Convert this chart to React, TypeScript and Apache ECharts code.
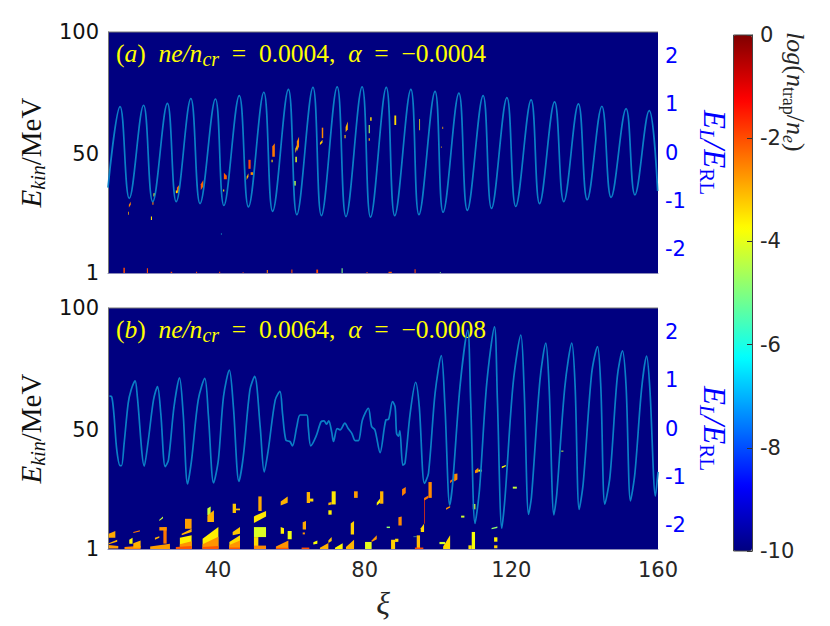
import React, { useEffect, useRef } from "react";
import * as echarts from "echarts";

// field traces: [xi, E_L/E_RL]
const fieldA: number[][] = [
  [10, -0.73], [13.3, 0.95], [15.8, -0.95], [19.7, 0.98], [22.2, -1.02], [26.2, 1.02], [28.6, -1.02], [32.6, 1.12],
  [35.1, -1.06], [39.3, 1.11], [41.6, -1.1], [45.8, 1.18], [48.3, -1.13], [52.5, 1.25], [54.9, -1.22], [59.2, 1.31],
  [61.5, -1.29], [65.9, 1.35], [68.2, -1.31], [72.5, 1.36], [74.9, -1.33], [79.3, 1.36], [81.6, -1.34], [85.9, 1.35],
  [88.2, -1.31], [92.6, 1.31], [94.8, -1.29], [99.2, 1.27], [101.4, -1.24], [105.7, 1.23], [108, -1.2], [112.3, 1.18],
  [114.6, -1.16], [118.8, 1.14], [121.2, -1.12], [125.4, 1.09], [127.7, -1.06], [131.8, 1.05], [134.3, -1.02],
  [138.3, 1.01], [140.7, -0.98], [144.7, 0.96], [147.2, -0.93], [151.3, 0.91], [153.7, -0.88], [157.6, 0.87], [159.9, -0.8],
];
const fieldB: number[][] = [
  [10.4, 0.67], [11, 0.66], [11.6, 0.31], [12.4, -0.45], [13.3, -0.77], [13.7, -0.77], [14.4, -0.31], [15.5, 0.52],
  [16.3, 0.8], [17.4, 0.99], [18, 0.66], [19.9, -0.78], [21, -0.24], [22.4, 0.59], [23.5, 0.87], [24.4, 0.31],
  [25.6, -0.79], [26.5, -0.65], [28, 0.45], [29.5, 1.05], [30.5, 0.31], [31.7, -1.15], [32.8, -0.65], [34.6, 0.59],
  [36.4, 1.04], [37.4, 0.25], [38.8, -1.13], [40.1, -0.65], [41.5, 0.66], [43.1, 1.21], [44.2, 0.45], [45.7, -1.1],
  [46.9, -0.58], [48.7, 0.8], [50, 1.08], [51.5, 0.04], [52.6, -0.9], [53.7, -0.45], [55.6, 0.59], [56.9, 0.77],
  [57.6, 0.31], [58.5, -0.24], [59.6, -0.27], [60.3, -0.36], [61.5, 0.04], [62.4, 0.28], [64.2, 0.28], [64.6, 0.04],
  [65.3, -0.36], [66.7, -0.17], [68.1, 0.14], [68.9, 0.16], [69.6, 0.09], [70.2, 0.16], [71, -0.07], [71.5, -0.27],
  [72.5, 0], [73.3, -0.03], [74.6, 0.11], [75.5, 0], [76.5, -0.1], [77.4, -0.25], [78.3, -0.25], [79.4, 0.18],
  [81, 0.42], [81.9, 0.04], [82.8, -0.03], [84.2, -0.5], [85.8, 0.18], [86.5, 0.19], [87.6, 0.56], [88.3, 0.45],
  [88.7, -0.1], [89.2, -0.16], [89.6, -0.05], [90.4, -0.76], [91, -0.72], [92.4, 0.31], [93.9, 0.96], [94.9, 0.45],
  [96.3, -1.14], [97.4, -0.93], [99.2, 0.73], [100.9, 1.51], [101.9, 0.45], [103.2, -1.59], [104, -1.14], [106, 0.87],
  [108.1, 2.04], [108.9, 0.59], [110.1, -1.97], [111.3, -1.28], [113.3, 0.94], [115.4, 2.11], [116.2, 0.59], [117.4, -2.07],
  [118.3, -1.41], [120.5, 0.94], [122.6, 1.94], [123.5, 0.8], [124.7, -1.78], [125.5, -1.41], [127.8, 1], [129.4, 1.77],
  [130.3, 0.87], [131.6, -1.79], [132.4, -1.35], [134.6, 0.87], [136.5, 1.77], [137.4, 0.87], [138.5, -1.68], [139.6, -1.14],
  [141.9, 1.14], [143.5, 1.7], [144.4, 0.87], [145.5, -1.57], [146.9, -1], [148.9, 1.07], [150.3, 1.61], [151.3, 0.87],
  [152.5, -1.5], [153.7, -0.93], [155.5, 0.8], [156.9, 1.5], [157.8, 0.8], [159.3, -1.4], [160, -0.9],
];

// trapped-electron patches: [xi0, xi1, Ebottom0, Etop0, Ebottom1, Etop1, log(n_trap/n_e)]
const trapA: number[][] = [
  [15.7, 16.2, 27.9, 29, 29, 30.3, -2.5], [15.5, 15.7, 24.9, 26.2, 24.9, 26.2, -3], [21.7, 22, 22.8, 24.2, 22.8, 24.2, -3.5],
  [22.1, 22.4, 29, 30.3, 29, 30.3, -2.5], [22.4, 22.8, 32.4, 33.8, 32.4, 33.8, -4], [28.8, 29.4, 33.8, 36, 34.5, 37.2, -2.4],
  [28.5, 28.9, 33.8, 34.9, 33.8, 34.9, -3.5], [35.3, 36, 35.1, 37.5, 36.5, 39.2, -2.2], [41.6, 42.4, 39.5, 42.2, 39.5, 41, -2.2],
  [41.4, 41.7, 34.5, 35.3, 34.5, 35.3, -3.5], [48.3, 48.9, 43.8, 47.5, 43.8, 47.5, -2], [47.8, 48.3, 39.2, 40.5, 40.5, 42, -3],
  [48.9, 49.6, 41.3, 42.4, 41.3, 42.4, -2.6], [54.8, 55.5, 48.8, 53, 48.8, 54.3, -2.4], [54.6, 54.9, 46.5, 47.5, 46.5, 47.5, -3.5],
  [61.5, 62.1, 50.9, 55, 53, 57, -2.6], [61.1, 61.5, 50.2, 52, 52, 53.6, -3.5], [61.1, 61.5, 46.5, 48.8, 46.5, 48.8, -4],
  [60.7, 61.2, 36.9, 38.8, 36.9, 38.8, -4.3], [68.3, 68.7, 56.4, 60.7, 56.4, 60.7, -2.6], [67.8, 68.5, 53.6, 54.5, 54.5, 55.7, -3.2],
  [74.8, 75.4, 58.8, 61, 60, 63.2, -3], [74.5, 74.8, 56.4, 57.7, 56.4, 57.7, -3.2], [81.5, 81.9, 63.5, 65, 63.5, 65, -3.4],
  [81.1, 81.4, 58.4, 61.8, 58.4, 61.8, -4.5], [81.1, 81.4, 55.3, 56.4, 55.3, 56.4, -3], [88.1, 88.6, 61.8, 65.7, 61.8, 65.7, -3.4],
  [94.9, 95.1, 59.6, 64.3, 59.6, 64.3, -3.6], [101.2, 101.4, 60.2, 61.1, 60.2, 61.1, -3], [100.8, 101, 52.5, 53, 52.5, 53, -3],
  [40.8, 41, 16.8, 17.2, 16.8, 17.2, -6],
  [14.2, 14.6, 1, 3.2, 1, 3.2, -2], [20.6, 20.9, 1, 3, 1, 3, -2], [27.1, 27.5, 1, 1.5, 1, 1.5, -2], [34, 34.3, 1, 1.5, 1, 1.5, -2],
  [40.3, 40.6, 1, 1.5, 1, 1.5, -2], [46.7, 47, 1, 1.3, 1, 1.3, -2], [53.3, 53.6, 1, 2.2, 1, 2.2, -2.5], [60, 60.3, 1, 2.4, 1, 2.4, -2],
  [66.8, 67.3, 1, 2.4, 1, 2.4, -2], [73.7, 74, 1, 3, 1, 3, -5], [80.5, 80.8, 1, 1.4, 1, 1.4, -2], [86.5, 87.4, 1, 1.5, 1, 1.5, -2.2],
  [93.6, 93.9, 1, 2.5, 1, 2.5, -2], [100.5, 100.8, 1, 1.3, 1, 1.3, -5],
];
const trapB: number[][] = [
  [10.2, 12.8, 1.2, 2.6, 1.2, 2.2, -2.8], [10.2, 12, 5.6, 7.3, 5.6, 8.4, -2.9], [10.2, 12.5, 2.9, 3.4, 4, 4.8, -3],
  [14.5, 18.9, 1, 1.8, 1, 2.3, -2.6], [15.8, 16.7, 3.2, 4.8, 3.2, 5.6, -3.8], [16.9, 18.9, 1.5, 3.4, 1.5, 4.5, -3], [16.9, 18.7, 7.6, 8, 8.2, 8.7, -2.4],
  [21.5, 26.9, 1, 2, 1, 3.2, -2.8], [25.1, 26, 3.2, 10, 3.2, 10, -2.4], [24, 26, 8.6, 10, 8.6, 10, -2.7], [22.8, 24, 4.8, 5.6, 5.6, 6.2, -3], [24, 25, 12.5, 13, 13.6, 14.4, -4.3],
  [29.6, 32.8, 1.2, 5.6, 1.2, 6.6, -3.6], [29.6, 32.8, 1, 3, 1, 4.2, -2.7], [28.5, 32.8, 1, 1.8, 1, 2.2, -2.1], [30.1, 32.8, 6.6, 7.3, 8, 9.3, -3], [31, 32.8, 9.3, 13.4, 9.3, 13.4, -2.8],
  [35.8, 40.1, 1.2, 5.2, 1.2, 10, -3.6], [35.8, 40.1, 1, 3, 1, 6, -2.7], [35.8, 40.1, 1, 1.8, 1, 2.2, -2.1], [37.1, 38, 15, 17.6, 15, 18.5, -4.3], [37.1, 38.9, 12.1, 14.8, 12.1, 16.9, -3],
  [43.1, 46, 1.2, 3.9, 1.2, 6.6, -3.4], [43.1, 46, 1, 2.6, 1, 4.5, -2.7], [43.1, 46, 1, 1.6, 1, 1.6, -2.1], [44, 46, 6.6, 8, 7.3, 10, -3.2], [44, 44.9, 15.8, 19.6, 15.8, 19.6, -3.2], [44.9, 46, 16.9, 17.6, 16.9, 17.6, -3.2],
  [51, 51.9, 16.6, 22.6, 16.6, 22.6, -2.9], [49.8, 53.1, 11.7, 14.4, 14.4, 16.6, -3.5], [49.8, 53.1, 5.9, 10, 5.9, 10, -4.1], [49.8, 51, 2, 5.9, 2, 5.9, -3.4], [49.8, 53.1, 1, 2.4, 1, 2.4, -2.6],
  [57.1, 59, 18.9, 20.5, 20, 22.6, -3], [57.1, 58, 7.3, 10, 7.3, 9.5, -3.6], [59, 60.1, 5, 8.4, 5, 8.4, -3.9], [55.8, 59.2, 1, 2, 1, 4.5, -2.7], [55.8, 59.2, 1, 1.5, 1, 1.5, -2.1],
  [64.2, 65.1, 19.9, 24.4, 19.9, 24.4, -3], [65.1, 66, 20.5, 21.7, 20.5, 21.7, -3.4], [71, 72.1, 19.3, 24.7, 19.3, 24.7, -3.5], [70.1, 71, 19, 20, 19.3, 20.3, -3], [70.1, 71, 15.1, 16.9, 15.1, 16.9, -3.6],
  [77.1, 78.1, 22, 24.7, 22, 24.7, -2.8], [84.2, 85.1, 19.6, 24.7, 19.6, 24.7, -3], [83.3, 84.2, 18.9, 20, 20, 21.7, -3.6], [90.2, 91.2, 22.8, 25.5, 24, 26.5, -2.5],
  [97.4, 98.3, 22, 28.5, 22, 28.5, -2.6], [96.2, 97.4, 20.8, 22, 22, 23, -2.4], [96.2, 96.4, 11.4, 21, 11.4, 21, -1.8], [95.3, 96.2, 8, 9.5, 8, 11.4, -3.4],
  [89.2, 90.1, 10.7, 14, 10.7, 14.4, -2.6], [86, 86.9, 9.6, 10.2, 9.6, 10.2, -4.8], [76.2, 77.1, 7, 11.5, 7, 12.5, -3.3], [63.1, 64, 9, 12, 9, 12.5, -2.9], [63.1, 63.7, 7, 7.8, 7, 7.8, -2.7],
  [66, 67.1, 2.8, 3.8, 3.2, 4.5, -3.8], [62.8, 64.9, 1, 1.6, 1, 1.6, -2], [67.8, 70.1, 1, 1.5, 1, 3.5, -3], [70.1, 71, 3.5, 4.5, 4.3, 5.9, -3.2], [71.9, 74, 1, 1.5, 1, 3.4, -3.7],
  [74.9, 77.1, 1, 1.8, 1, 4.8, -3], [80.1, 81.9, 1, 3.9, 1, 3.9, -4], [81.9, 83.3, 3.9, 4.5, 5, 6.6, -2.7], [87.2, 88.3, 1, 4.8, 1, 4.8, -3.3], [88.3, 89.2, 3.9, 5.2, 4, 5.2, -3.4],
  [94.2, 95.1, 1, 6.6, 1, 6.6, -3.1], [93.7, 96, 1, 1.6, 1, 1.6, -2], [93.3, 94.2, 5.9, 6.1, 5.9, 6.1, -5], [101.4, 103.3, 1, 2, 1, 6.6, -3.4], [100.4, 101.9, 3, 3.9, 3, 3.9, -4.2],
  [108.3, 109.2, 1, 2.5, 1, 2.5, -3.5], [109.2, 110.1, 1, 8, 1, 8, -3.8],
  [104.4, 105.3, 28.7, 31.8, 29.5, 32, -2.6], [103.3, 104.4, 28, 29, 29.5, 30.2, -2.4], [102.2, 103.3, 17.1, 17.8, 18, 18.7, -2.7], [110.1, 111, 32.1, 33.2, 32.5, 34.4, -2.7], [111, 112, 32.8, 33.6, 32.8, 33.6, -4],
  [117.4, 118.5, 34.2, 34.9, 35, 35.5, -3.8], [120.4, 121.5, 25.8, 26.6, 25.8, 26.6, -4.3], [109.5, 110.2, 17.3, 19.5, 17.3, 19.5, -4.2], [106.3, 107.2, 13.9, 14.7, 13.9, 14.7, -4.2], [133.6, 134.2, 41, 41.4, 41, 41.4, -4.4],
  [114.6, 116.2, 9.1, 9.6, 9.6, 10.2, -4.8], [115.3, 116.2, 1.3, 2.5, 1.3, 2.5, -3.3], [115.3, 116.2, 4, 5.8, 4, 5.8, -3.6],
];

const xTicks = [40, 80, 120, 160];
const energyTicks = [1, 50, 100];
const fieldTicks = [-2, -1, 0, 1, 2];
const jet = ["#000080", "#0000ff", "#0080ff", "#00ffff", "#80ff80", "#ffff00", "#ff8000", "#ff0000", "#800000"];

const TEXT = "#262626";
const SANS = "DejaVu Sans";
const SERIF = "Liberation Serif";
const LINE = "#0b7fc6";
const LABEL_SIZE = 21;

const panelRich = {
  t: { fontFamily: SERIF, fontSize: 25.5, fill: "#ffff00", lineHeight: 32 },
  i: { fontFamily: SERIF, fontSize: 25.5, fontStyle: "italic", fill: "#ffff00", lineHeight: 32 },
  s: { fontFamily: SERIF, fontSize: 20, fontStyle: "italic", fill: "#ffff00", lineHeight: 32, verticalAlign: "bottom" },
};
const ekinRich = {
  i: { fontFamily: SERIF, fontSize: 29, fontStyle: "italic", color: "#111", lineHeight: 34 },
  s: { fontFamily: SERIF, fontSize: 20, fontStyle: "italic", color: "#111", lineHeight: 34, verticalAlign: "bottom" },
  t: { fontFamily: SERIF, fontSize: 29, color: "#111", lineHeight: 34 },
};
const elRich = {
  i: { fontFamily: SERIF, fontSize: 31, fontStyle: "italic", color: "#0000ff", lineHeight: 36 },
  s: { fontFamily: SERIF, fontSize: 21, fontStyle: "italic", color: "#0000ff", lineHeight: 36, verticalAlign: "bottom" },
  r: { fontFamily: SERIF, fontSize: 21, color: "#0000ff", lineHeight: 36, verticalAlign: "bottom" },
};
const barRich = {
  i: { fontFamily: SERIF, fontSize: 26, fontStyle: "italic", fill: TEXT, lineHeight: 30 },
  t: { fontFamily: SERIF, fontSize: 26, fill: TEXT, lineHeight: 30 },
  s: { fontFamily: SERIF, fontSize: 18, fontStyle: "italic", fill: TEXT, lineHeight: 30, verticalAlign: "bottom" },
  r: { fontFamily: SERIF, fontSize: 18, fill: TEXT, lineHeight: 30, verticalAlign: "bottom" },
};

const drawPatch = (_: any, api: any) => {
  const pts = [
    [api.value(0), api.value(2)],
    [api.value(0), api.value(3)],
    [api.value(1), api.value(5)],
    [api.value(1), api.value(4)],
  ].map((p) => api.coord(p));
  return { type: "polygon", shape: { points: pts }, style: { fill: api.visual("color") } };
};

const xAxisFor = (grid: number, labelled: boolean) => ({
  type: "value",
  gridIndex: grid,
  min: 10,
  max: 160,
  splitLine: { show: false },
  axisTick: { show: false },
  axisLine: { show: true, onZero: false, lineStyle: { color: "#8a8ab8", width: 1 } },
  axisLabel: labelled
    ? { show: true, customValues: xTicks, fontFamily: SANS, fontSize: LABEL_SIZE, color: TEXT, margin: 10 }
    : { show: false },
  ...(labelled
    ? {
        name: "ξ",
        nameLocation: "middle",
        nameGap: 38,
        nameTextStyle: { fontFamily: SERIF, fontStyle: "italic", fontSize: 32, color: TEXT },
      }
    : {}),
});
const energyAxis = (grid: number) => ({
  type: "value",
  gridIndex: grid,
  position: "left",
  min: 1,
  max: 100,
  splitLine: { show: false },
  axisTick: { show: false },
  axisLine: { show: true, onZero: false, lineStyle: { color: "#777", width: 1 } },
  axisLabel: { customValues: energyTicks, fontFamily: SANS, fontSize: LABEL_SIZE, color: "#111", margin: 9, showMinLabel: true, showMaxLabel: true },
  name: "{i|E}{s|kin}{t|/MeV}",
  nameLocation: "middle",
  nameRotate: 90,
  nameGap: 55,
  nameTextStyle: { rich: ekinRich },
});
const fieldAxis = (grid: number) => ({
  type: "value",
  gridIndex: grid,
  position: "right",
  min: -2.5,
  max: 2.5,
  splitLine: { show: false },
  axisTick: { show: false },
  axisLine: { show: false, onZero: false },
  axisLabel: { customValues: fieldTicks, fontFamily: SANS, fontSize: LABEL_SIZE, color: "#0000ff", margin: 7 },
  name: "{i|E}{s|L}{i|/E}{r|RL}",
  nameLocation: "middle",
  nameRotate: -90,
  nameGap: 31,
  nameTextStyle: { rich: elRich },
});

export default function App() {
  const ref = useRef<HTMLDivElement>(null);
  useEffect(() => {
    document.body.style.margin = "0";
    const chart = echarts.init(ref.current!, undefined, { renderer: "svg" });
    chart.setOption({
      animation: false,
      backgroundColor: "#ffffff",
      grid: [
        { left: 108, top: 32, width: 550, height: 241, show: true, backgroundColor: "#000080", borderWidth: 0 },
        { left: 108, top: 308, width: 550, height: 241, show: true, backgroundColor: "#000080", borderWidth: 0 },
        { left: 733, top: 35, width: 19, height: 516, show: false },
      ],
      xAxis: [xAxisFor(0, false), xAxisFor(1, true), { type: "value", gridIndex: 2, min: 0, max: 1, show: false }],
      yAxis: [
        energyAxis(0),
        fieldAxis(0),
        energyAxis(1),
        fieldAxis(1),
        {
          type: "value",
          gridIndex: 2,
          position: "right",
          min: -10,
          max: 0,
          interval: 2,
          z: 10,
          splitLine: { show: false },
          axisLine: { show: true, onZero: false, lineStyle: { color: "#222", width: 1 } },
          axisTick: { show: true, inside: true, length: 5, lineStyle: { color: "#333", width: 1 } },
          axisLabel: { fontFamily: SANS, fontSize: LABEL_SIZE, color: TEXT, margin: 8 },
        },
      ],
      visualMap: {
        type: "continuous",
        min: -10,
        max: 0,
        dimension: 6,
        seriesIndex: [0, 2],
        calculable: false,
        hoverLink: false,
        left: 733,
        top: 35,
        padding: 0,
        itemWidth: 19,
        itemHeight: 516,
        inRange: { color: jet },
      },
      series: [
        { type: "custom", xAxisIndex: 0, yAxisIndex: 0, data: trapA, renderItem: drawPatch, clip: true, encode: { x: [0, 1], y: [2, 3, 4, 5] } },
        { type: "line", xAxisIndex: 0, yAxisIndex: 1, data: fieldA, showSymbol: false, smooth: 0.4, lineStyle: { color: LINE, width: 1.7 }, z: 5 },
        { type: "custom", xAxisIndex: 1, yAxisIndex: 2, data: trapB, renderItem: drawPatch, clip: true, encode: { x: [0, 1], y: [2, 3, 4, 5] } },
        { type: "line", xAxisIndex: 1, yAxisIndex: 3, data: fieldB, showSymbol: false, smooth: 0.3, lineStyle: { color: LINE, width: 1.7 }, z: 5 },
      ],
      graphic: [
        { type: "line", z: 20, shape: { x1: 108, y1: 32, x2: 658, y2: 32 }, style: { stroke: "#777", lineWidth: 1 } },
        { type: "line", z: 20, shape: { x1: 108, y1: 308, x2: 658, y2: 308 }, style: { stroke: "#777", lineWidth: 1 } },
        { type: "rect", z: 20, shape: { x: 733.5, y: 35, width: 19, height: 516 }, style: { fill: "none", stroke: "#444", lineWidth: 1 } },
        {
          type: "text",
          z: 20,
          x: 116,
          y: 37,
          style: {
            text: "{t|(}{i|a}{t|)  }{i|ne/n}{s|cr}{t|  =  0.0004,  }{i|α}{t|  =  −0.0004}",
            rich: panelRich,
          },
        },
        {
          type: "text",
          z: 4,
          x: 116,
          y: 313,
          style: {
            text: "{t|(}{i|b}{t|)  }{i|ne/n}{s|cr}{t|  =  0.0064,  }{i|α}{t|  =  −0.0008}",
            rich: panelRich,
          },
        },
        {
          type: "text",
          z: 20,
          x: 810,
          y: 32,
          rotation: -Math.PI / 2,
          style: {
            text: "{i|log}{t|(}{i|n}{r|trap}{t|/}{i|n}{s|e}{t|)}",
            rich: barRich,
          },
        },
      ],
    });
    return () => chart.dispose();
  }, []);
  return <div ref={ref} style={{ width: 830, height: 626 }} />;
}
